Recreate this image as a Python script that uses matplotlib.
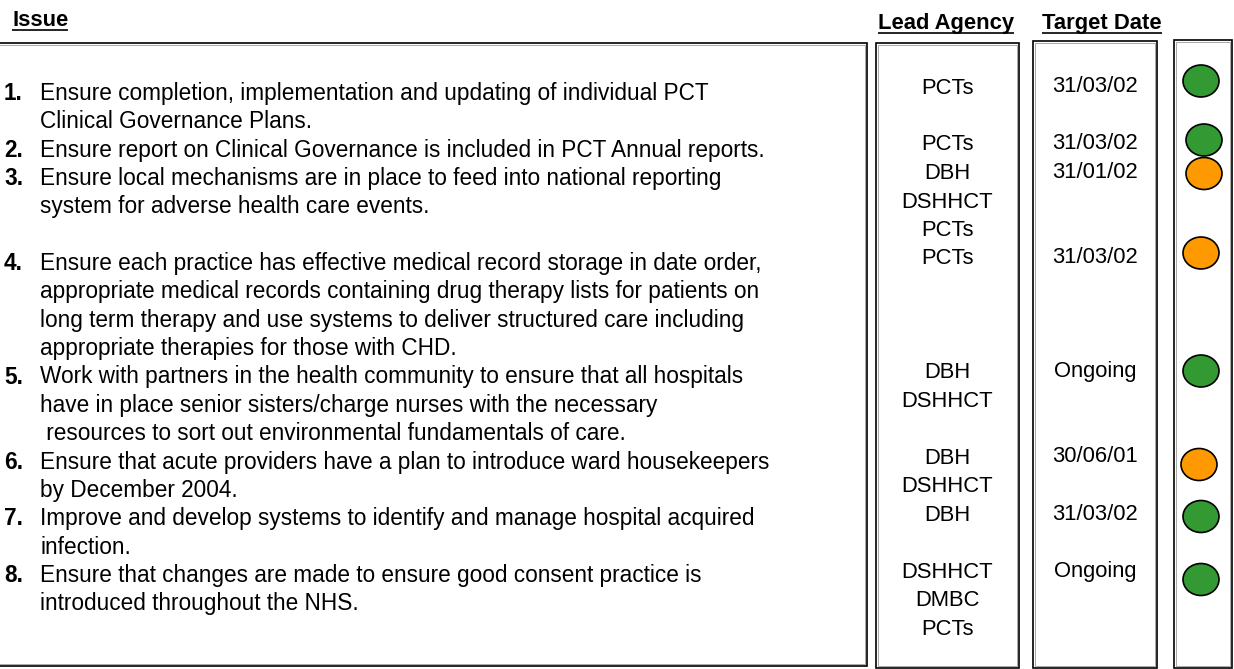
import matplotlib.pyplot as plt
from matplotlib.patches import Rectangle, Ellipse

plt.rcParams['font.family'] = ['Liberation Sans', 'DejaVu Sans']

# table content
issues = [
    ["Ensure completion, implementation and updating of individual PCT",
     "Clinical Governance Plans."],
    ["Ensure report on Clinical Governance is included in PCT Annual reports."],
    ["Ensure local mechanisms are in place to feed into national reporting",
     "system for adverse health care events."],
    ["Ensure each practice has effective medical record storage in date order,",
     "appropriate medical records containing drug therapy lists for patients on",
     "long term therapy and use systems to deliver structured care including",
     "appropriate therapies for those with CHD."],
    ["Work with partners in the health community to ensure that all hospitals",
     "have in place senior sisters/charge nurses with the necessary",
     " resources to sort out environmental fundamentals of care."],
    ["Ensure that acute providers have a plan to introduce ward housekeepers",
     "by December 2004."],
    ["Improve and develop systems to identify and manage hospital acquired",
     "infection."],
    ["Ensure that changes are made to ensure good consent practice is",
     "introduced throughout the NHS."],
]
agencies = [
    ["PCTs"], ["PCTs"], ["DBH", "DSHHCT", "PCTs"], ["PCTs"],
    ["DBH", "DSHHCT"], ["DBH", "DSHHCT"], ["DBH"], ["DSHHCT", "DMBC", "PCTs"],
]
target_dates = ["31/03/02", "31/03/02", "31/01/02", "31/03/02",
                "Ongoing", "30/06/01", "31/03/02", "Ongoing"]
status = ["green", "green", "amber", "amber", "green", "amber", "green", "green"]

# layout
row_start = [0, 2, 3, 6, 10, 13, 15, 17]
dot_nudge = [-5, -3, 2, -4, 0, 8, 3, 9]
dot_dx = [0, 3, 3, 0, 0, -2, 0, 0]
status_colors = {"green": "#339933", "amber": "#ff9900"}
fs = 15.8
fs_issue = 16.3

fig = plt.figure(figsize=(12.34, 6.69), dpi=100)
ax = fig.add_axes([0, 0, 1, 1])
ax.set_xlim(0, 1234)
ax.set_ylim(669, 0)
ax.axis('off')


def box(x0, y0, x1, y1):
    ax.add_patch(Rectangle((x0, y0), x1 - x0, y1 - y0, fill=False,
                           edgecolor='black', lw=1.2))
    ax.add_patch(Rectangle((x0 + 1.6, y0 + 1.6), x1 - x0 - 3.2, y1 - y0 - 3.2,
                           fill=False, edgecolor='#a8a8a8', lw=0.7))


box(-10, 43, 867, 666)
box(876, 43, 1019, 668)
box(1033, 41, 1157, 668)
box(1174, 40, 1232, 668)

# headers
headers = []
headers.append(ax.text(12, 26, "Issue", fontsize=fs, fontweight='bold', va='baseline'))
headers.append(ax.text(946, 29.5, "Lead Agency", fontsize=fs, fontweight='bold',
                       ha='center', va='baseline'))
headers.append(ax.text(1102, 29.5, "Target Date", fontsize=fs, fontweight='bold',
                       ha='center', va='baseline'))

for i, lines in enumerate(issues):
    k = row_start[i]
    y = 100 + 28.35 * k
    ax.text(4, y, f"{i + 1}.", fontsize=fs_issue, fontweight='bold', va='baseline')
    for j, line in enumerate(lines):
        ax.text(40, 100 + 28.35 * (k + j), line, fontsize=fs_issue, va='baseline')

    for j, ag in enumerate(agencies[i]):
        ax.text(947.5, 93.5 + 28.5 * (k + j), ag, fontsize=fs,
                ha='center', va='baseline')

    ax.text(1095, 92 + 28.5 * k, target_dates[i], fontsize=fs,
            ha='center', va='baseline')

    cy = 86 + 28.5 * k + dot_nudge[i]
    ax.add_patch(Ellipse((1201 + dot_dx[i], cy), 36, 32,
                         facecolor=status_colors[status[i]],
                         edgecolor='black', lw=1.2))

# underline headers
fig.canvas.draw()
inv = ax.transData.inverted()
for t in headers:
    bb = t.get_window_extent()
    (xa, _), (xb, _) = inv.transform([(bb.x0, bb.y0), (bb.x1, bb.y0)])
    yb = t.get_position()[1] + 3.8
    ax.plot([xa, xb], [yb, yb], color='black', lw=1.2, solid_capstyle='butt')

fig.savefig('out.png', dpi=100)
